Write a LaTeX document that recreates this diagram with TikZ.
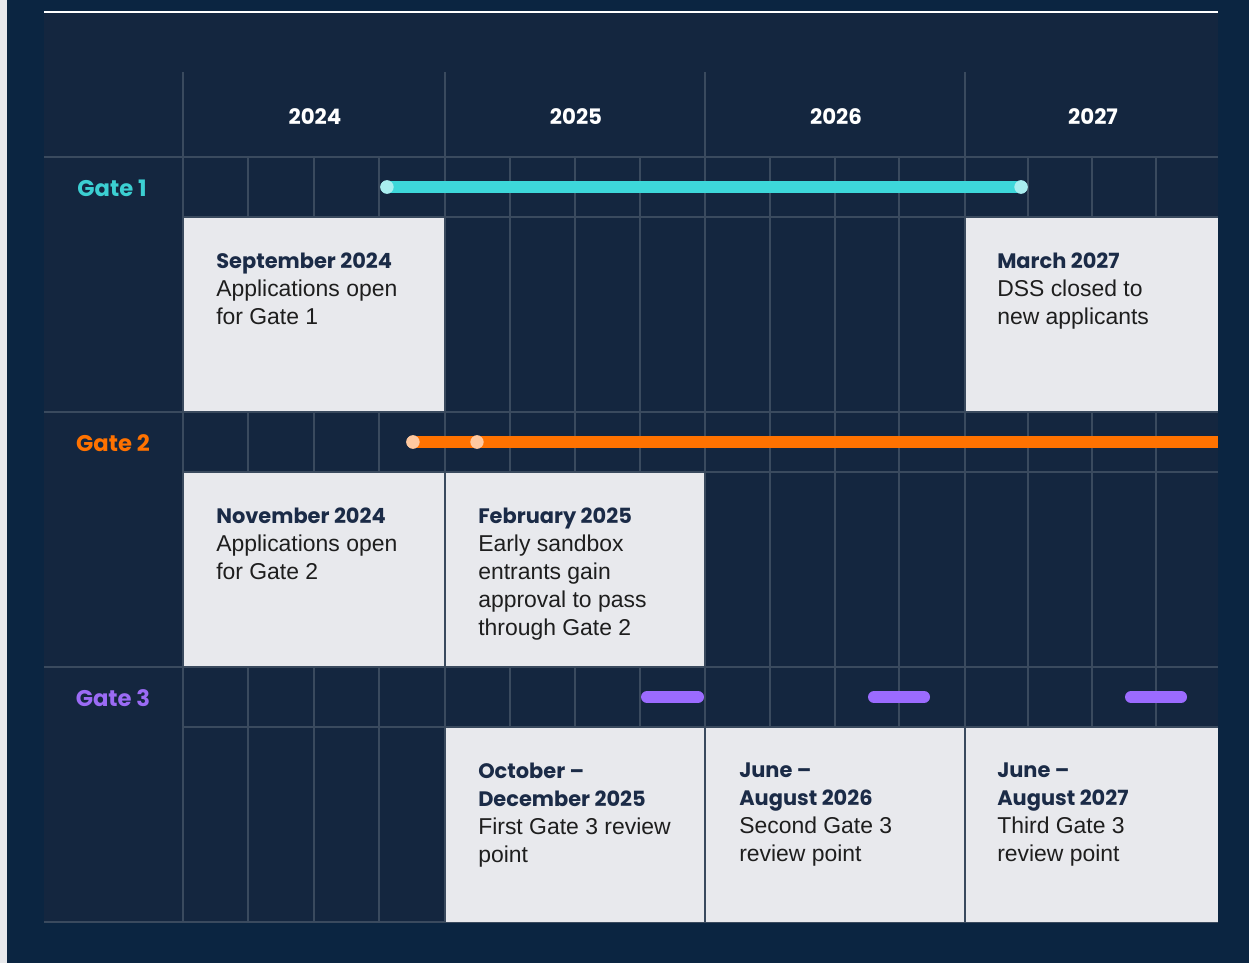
\documentclass[tikz,border=0pt]{standalone}
\usepackage{fontspec}
\setmainfont{Liberation Sans}
\newfontfamily\headfont{Poppins}
\definecolor{bg}{HTML}{0B2541}
\definecolor{strip}{HTML}{E8E9EC}
\definecolor{panel}{HTML}{14263F}
\definecolor{gridc}{HTML}{3A4A5E}
\definecolor{boxc}{HTML}{E8E9ED}
\definecolor{titlec}{HTML}{1B2B47}
\definecolor{bodyc}{HTML}{1E1E1E}
\definecolor{cyanbar}{HTML}{3DD7DA}
\definecolor{cyandot}{HTML}{A9EEF0}
\definecolor{cyanlab}{HTML}{3CCFD2}
\definecolor{orangebar}{HTML}{FF7200}
\definecolor{orangedot}{HTML}{FFC9A0}
\definecolor{purplebar}{HTML}{9B6BFF}
\definecolor{purplelab}{HTML}{9B6BF5}
\newcommand\ttl[1]{{\headfont\bfseries\fontsize{15.7}{21}\selectfont\color{titlec}#1}}
\begin{document}
\begin{tikzpicture}[x=0.75pt,y=-0.75pt,
  gridline/.style={draw=gridc, line width=1.5pt},
  boxfill/.style={fill=boxc},
  txt/.style={anchor=base west, inner sep=0pt, text=bodyc, font=\fontsize{17.2}{21}\selectfont},
  yearlab/.style={anchor=base, inner sep=0pt, text=white, font=\headfont\bfseries\fontsize{16}{18}\selectfont},
  gatelab/.style={anchor=base, inner sep=0pt, font=\headfont\bfseries\fontsize{17}{18}\selectfont},
  bar/.style={line width=9pt, line cap=round},
  dot/.style={circle, inner sep=0pt, minimum size=10pt}]
\useasboundingbox (0,0) rectangle (1249,963);
\fill[bg] (0,0) rectangle (1249,963);
\fill[strip] (0,0) rectangle (7,963);
\fill[panel] (44,12) rectangle (1218,922);
\draw[white, line width=1.5pt] (44,12) -- (1218,12);
\draw[gridc, line width=1.5pt] (44,922) -- (1218,922);
% quarter grid lines
\foreach \x in {248,314,379,510,575,640,770,835,899,1028,1092,1156}
  \draw[gridline] (\x,157) -- (\x,922);
% year lines
\foreach \x in {183,445,705,965}
  \draw[gridline] (\x,72) -- (\x,922);
% horizontal lines
\foreach \y in {157,412,667}
  \draw[gridline] (44,\y) -- (1218,\y);
\foreach \y in {217,472,727}
  \draw[gridline] (183,\y) -- (1218,\y);
% boxes
\fill[boxfill] (184,218) rectangle (444,411);
\fill[boxfill] (966,218) rectangle (1218,411);
\fill[boxfill] (184,473) rectangle (444,666);
\fill[boxfill] (446,473) rectangle (704,666);
\fill[boxfill] (446,728) rectangle (704,922);
\fill[boxfill] (706,728) rectangle (964,922);
\fill[boxfill] (966,728) rectangle (1218,922);
% year labels
\node[yearlab] (y24) at (315,125) {2024};
\node[yearlab] (y25) at (576,125) {2025};
\node[yearlab] (y26) at (836,125) {2026};
\node[yearlab] (y27) at (1093,125) {2027};
% gate labels
\node[gatelab, text=cyanlab] (g1) at (112,196) {Gate 1};
\node[gatelab, text=orangebar] (g2) at (113,451) {Gate 2};
\node[gatelab, text=purplelab] (g3) at (113,706) {Gate 3};
% Gate 1 bar
\node[dot, fill=cyandot] (c1a) at (387,187) {};
\node[dot, fill=cyandot] (c1b) at (1021,187) {};
\draw[bar, cyanbar] (c1a.center) -- (c1b.center);
\node[dot, fill=cyandot] at (c1a) {};
\node[dot, fill=cyandot] at (c1b) {};
% Gate 2 bar
\node[dot, fill=orangedot] (o2a) at (413,442) {};
\node[dot, fill=orangedot] (o2b) at (477,442) {};
\coordinate (o2end) at (1218,442);
\draw[line width=9pt, orangebar] (o2a.center) -- (o2end);
\node[dot, fill=orangedot] at (o2a) {};
\node[dot, fill=orangedot] at (o2b) {};
% Gate 3 bars
\coordinate (p1a) at (647,697); \coordinate (p1b) at (698,697);
\coordinate (p2a) at (874,697); \coordinate (p2b) at (924,697);
\coordinate (p3a) at (1131,697); \coordinate (p3b) at (1181,697);
\draw[bar, purplebar] (p1a) -- (p1b);
\draw[bar, purplebar] (p2a) -- (p2b);
\draw[bar, purplebar] (p3a) -- (p3b);
% box texts
\node[txt] (t1) at (216,253) {\parbox[t]{220pt}{\ttl{September 2024}\\Applications open\\for Gate 1}};
\node[txt] (t2) at (997,253) {\parbox[t]{220pt}{\ttl{March 2027}\\DSS closed to\\new applicants}};
\node[txt] (t3) at (216,508) {\parbox[t]{220pt}{\ttl{November 2024}\\Applications open\\for Gate 2}};
\node[txt] (t4) at (478,508) {\parbox[t]{220pt}{\ttl{February 2025}\\Early sandbox\\entrants gain\\approval to pass\\through Gate 2}};
\node[txt] (t5) at (478,763) {\parbox[t]{220pt}{\ttl{October –}\\\ttl{December 2025}\\First Gate 3 review\\point}};
\node[txt] (t6) at (739,763) {\parbox[t]{220pt}{\ttl{June –}\\\ttl{August 2026}\\Second Gate 3\\review point}};
\node[txt] (t7) at (997,763) {\parbox[t]{220pt}{\ttl{June –}\\\ttl{August 2027}\\Third Gate 3\\review point}};
\end{tikzpicture}
\end{document}
